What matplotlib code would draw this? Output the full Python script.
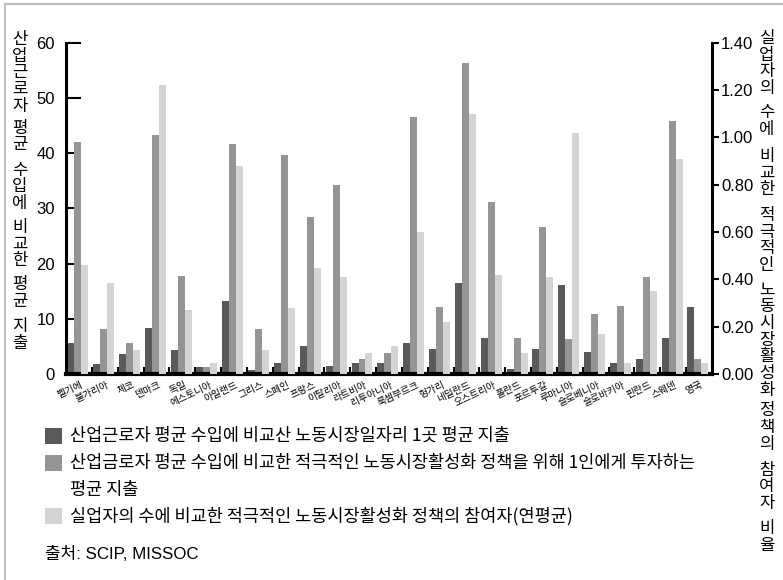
import numpy as np
import matplotlib.pyplot as plt
from matplotlib.patches import Rectangle
from matplotlib.lines import Line2D

plt.rcParams['font.family'] = ['Noto Sans CJK KR', 'DejaVu Sans']

W, H = 783, 580

# data
countries = ['벨기에', '불가리아', '체코', '덴마크', '독일', '에스토니아', '아일랜드',
             '그리스', '스페인', '프랑스', '이탈리아', '라트비아', '리투아니아', '룩셈부르크',
             '헝가리', '네덜란드', '오스트리아', '폴란드', '포르투갈', '루마니아',
             '슬로베니아', '슬로바키아', '핀란드', '스웨덴', '영국']
spend_per_job = [5.6, 1.8, 3.6, 8.4, 4.3, 1.2, 13.3, 0.7, 2.0, 5.0, 1.4, 2.0, 2.0,
                 5.6, 4.5, 16.4, 6.6, 0.9, 4.5, 16.2, 3.9, 2.0, 2.7, 6.6, 12.2]
spend_per_person = [42.1, 8.1, 5.7, 43.2, 17.8, 1.2, 41.6, 8.1, 39.6, 28.4, 34.2, 2.7, 3.8,
                    46.5, 12.2, 56.3, 31.1, 6.6, 26.6, 6.3, 10.9, 12.4, 17.6, 45.9, 2.7]
participant_ratio = [0.46, 0.385, 0.10, 1.22, 0.27, 0.047, 0.88, 0.10, 0.28, 0.45, 0.41,
                     0.09, 0.117, 0.60, 0.22, 1.10, 0.42, 0.09, 0.41, 1.02, 0.17, 0.047,
                     0.35, 0.91, 0.047]

left_ticks = [0, 10, 20, 30, 40, 50, 60]
right_ticks = [0.0, 0.2, 0.4, 0.6, 0.8, 1.0, 1.2, 1.4]

series_labels = ['산업근로자 평균 수입에 비교산 노동시장일자리 1곳 평균 지출',
                 '산업금로자 평균 수입에 비교한 적극적인 노동시장활성화 정책을 위해 1인에게 투자하는\n평균 지출',
                 '실업자의 수에 비교한 적극적인 노동시장활성화 정책의 참여자(연평균)']
colors = ['#59595b', '#959596', '#d4d4d6']
left_title = '산업근로자 평균 수입에 비교한 평균 지출'
right_title = '실업자의 수에 비교한 적극적인 노동시장활성화 정책의 참여자 비율'
source = '출처: SCIP, MISSOC'

num_font = ['Liberation Sans', 'DejaVu Sans']
mixed_font = ['Liberation Sans', 'Noto Sans CJK KR']


def px(x, y):
    return x / W, 1 - y / H


fig = plt.figure(figsize=(W / 100, H / 100), dpi=100)
ax = fig.add_axes([66 / W, 1 - 374 / H, (712 - 66) / W, (374 - 42.7) / H])
ax2 = ax.twinx()

x = np.arange(len(countries))
bw = 0.27
ax.bar(x + 0.05 + bw / 2, spend_per_job, bw, color=colors[0], zorder=2)
ax.bar(x + 0.05 + 1.5 * bw, spend_per_person, bw, color=colors[1], zorder=2)
ax2.bar(x + 0.05 + 2.5 * bw, participant_ratio, bw, color=colors[2], zorder=2)

ax.set_xlim(0, len(countries))
ax.set_ylim(0, 60)
ax2.set_ylim(0, 1.4)

# axes styling
for a in (ax, ax2):
    a.spines['top'].set_visible(False)
ax.spines['right'].set_visible(False)
ax2.spines['left'].set_visible(False)
ax2.spines['bottom'].set_visible(False)
ax.spines['left'].set_linewidth(2.2)
ax.spines['bottom'].set_linewidth(3)
ax2.spines['right'].set_linewidth(2.2)

ax.set_yticks(left_ticks)
ax.set_yticklabels([str(t) for t in left_ticks], family=num_font)
ax.tick_params(axis='y', direction='in', length=11, width=1.5, labelsize=12, pad=8)

ax2.set_yticks(right_ticks)
ax2.set_yticklabels(['%.2f' % t for t in right_ticks], family=num_font)
ax2.tick_params(axis='y', direction='out', length=5, width=1.5, labelsize=12, pad=1.5)

ax.set_xticks(np.arange(1, len(countries)))
ax.set_xticklabels([])
ax.tick_params(axis='x', which='major', direction='in', length=5, width=1.5)
ax.set_xticks(x + 0.55, minor=True)
ax.set_xticklabels(countries, minor=True, rotation=25, ha='right', va='top',
                   rotation_mode='anchor', fontsize=7)
ax.tick_params(axis='x', which='minor', length=0, pad=4)


def stack_text(label, xc, y_top, step, space_gap, size):
    # each word drawn as one vertical column of characters
    y = y_top
    for word in label.split(' '):
        fig.text(*px(xc, y), '\n'.join(word), ha='center', va='top',
                 fontsize=size, linespacing=0.98, multialignment='center')
        y += len(word) * step + space_gap


stack_text(left_title, 20, 31, 15.5, 11, 12)
stack_text(right_title, 767, 30, 15.5, 12.5, 12)

# legend
row_y = [436, 463, 516]
for lab, col, yy in zip(series_labels, colors, row_y):
    fig.add_artist(Rectangle(px(45, yy + 8), 17 / W, 16 / H, facecolor=col,
                             edgecolor='none', transform=fig.transFigure))
    for k, line in enumerate(lab.split('\n')):
        fig.text(*px(70, yy + k * 26.5), line, va='center', ha='left', fontsize=12.6)

fig.text(*px(45, 554), source, va='center', ha='left', fontsize=12.2, family=mixed_font)

# frame lines
fig.add_artist(Line2D([5 / W, 1], [1 - 4 / H, 1 - 4 / H], color='#bdbdbd', lw=1.5,
                      transform=fig.transFigure))
fig.add_artist(Line2D([5 / W, 5 / W], [0, 1 - 4 / H], color='#bdbdbd', lw=1.5,
                      transform=fig.transFigure))

fig.savefig('out.png', dpi=100)
